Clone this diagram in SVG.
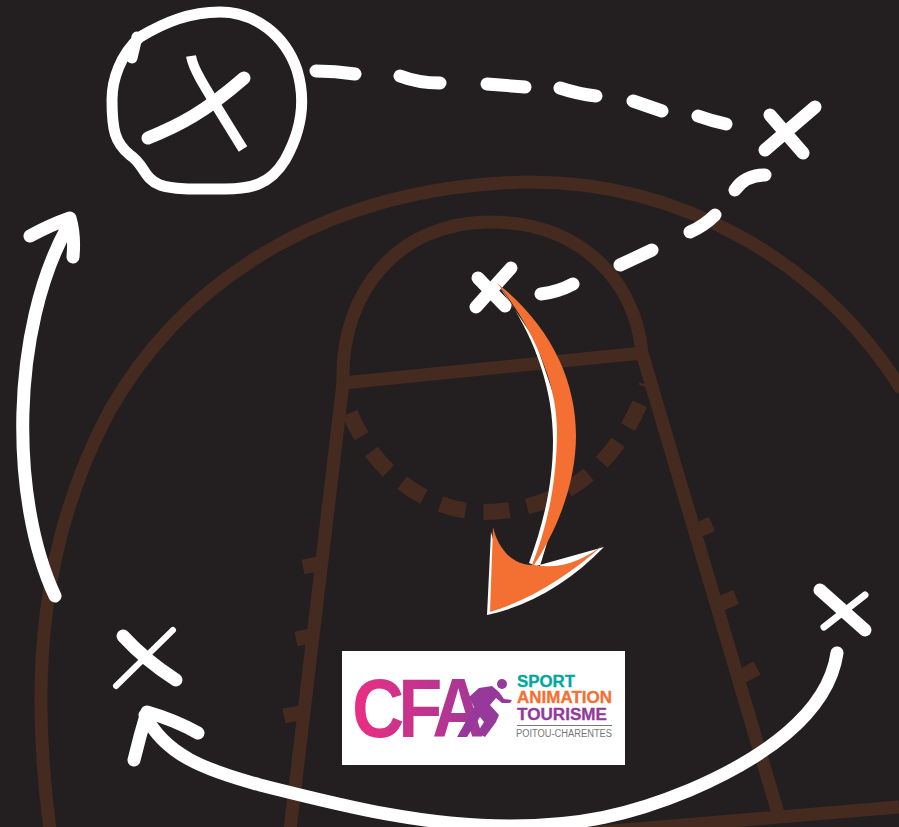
<svg xmlns="http://www.w3.org/2000/svg" width="899" height="827" viewBox="0 0 899 827">
<style>
.court{fill:none;stroke:#452a20;stroke-width:13}
.w{fill:none;stroke:#fff;stroke-width:13;stroke-linecap:round;stroke-linejoin:round}
.t{font-family:"Liberation Sans",Arial,sans-serif;font-weight:bold;font-size:16px;stroke-width:.3px}
</style>
<defs><linearGradient id="g" gradientUnits="userSpaceOnUse" x1="0" y1="0" x2="170" y2="0"><stop offset="0" stop-color="#ec2e82"/><stop offset="1" stop-color="#96399b"/></linearGradient></defs>
<rect width="899" height="827" fill="#231f20"/>
<g id="court">
<path class="court" d="M50 830C30 680 40 540 110 410C190 270 340 185 530 182C680 182 820 260 902 390"/>
<path class="court" d="M343 383C340 290 400 222 490 222C580 222 635 280 642 353"/>
<path class="court" d="M343 383L642 353M343 383L290 830M642 353L780 820M540 837L899 807"/>
<path class="court" style="stroke-width:16" stroke-dasharray="26 18" d="M350 413C375 475 430 512 484 512C560 512 620 465 647 385"/>
<path class="court" style="stroke-width:15" d="M303 567L323 563M296 639L316 635M284 716L304 712M693 532L712 524M715 606L736 597M735 680L757 668"/>
</g>
<g id="connectors">
<path class="w" d="M316 71Q335 71 355 74M400 76Q418 83 440 83M487 84L525 87M560 88Q578 94 596 96M633 101L662 111M698 116Q712 121 726 124"/>
<path class="w" d="M735 190Q745 175 765 175M690 232Q704 226 715 215M620 265L652 250M541 294Q558 292 573 284"/>
<path class="w" d="M55 596C10 500 10 330 68 226M30 236Q50 225 70 218Q75 235 73 257"/>
<path class="w" d="M837 653C828 715 760 760 690 790C630 815 580 826 510 826C420 826 340 805 260 785C205 770 165 755 145 715M134 760Q140 735 147 712Q175 720 198 733"/>
</g>
<g id="player-circled">
<path class="w" style="stroke-width:11" d="M132 58L137 37M140 37C165 22 190 12 220 12C255 12 285 35 297 70C306 100 302 130 285 160C270 185 250 189 225 189C200 189 175 190 160 185C143 178 145 165 130 155C115 143 112 130 112 100C112 80 120 55 140 37"/>
<path class="w" style="stroke-width:10;stroke-linecap:butt" d="M191 56C193 68 197 75 243 149"/>
<path class="w" d="M148 138C180 125 205 112 244 78"/>
</g>
<g id="player-top-right"><path class="w" d="M765 150L815 107M770 115L803 153"/></g>
<g id="player-center"><path class="w" d="M476 307L511 268M478 278L505 306"/></g>
<g id="player-bottom-left"><path class="w" style="stroke-width:6" d="M116 686L173 630"/><path class="w" d="M123 636Q145 660 176 680"/></g>
<g id="player-right"><path class="w" d="M820 590L865 630"/><path class="w" style="stroke-width:7" d="M824 627L865 595"/></g>
<g id="orange-arrow">
<path fill="#fff" d="M497 283C532 330 553 385 553 440C553 485 543 525 529 563L536 566L604 547C570 582 530 606 487 615L491 532L500 565L540 566L560 500L562 420L535 340Z"/>
<path fill="#f37032" d="M497 283C550 325 576 380 576 435C576 480 560 525 534 565C560 570 585 560 604 544C570 575 530 600 490 612L493 527C497 545 510 565 532 565C548 525 557 480 557 430C557 385 535 330 497 283Z"/>
</g>
<g id="logo">
<rect x="342" y="651" width="283" height="114" fill="#fff"/>
<text transform="translate(352 737) scale(.86 1)" font-family="Liberation Sans,Arial,sans-serif" font-weight="bold" font-size="84" letter-spacing="-7" fill="url(#g)">CFA</text>
<circle cx="502" cy="684" r="5" fill="#96399b"/>
<path fill="#96399b" d="M469 697L479 688L492 686L499 692L504 699L512 700L510 703L502 703L496 698L490 705L499 715L496 722L485 737L477 733L484 722L480 717L467 737L457 737L474 707Z"/>
<text class="t" x="517" y="687" fill="#00a79d" stroke="#00a79d" textLength="58" lengthAdjust="spacingAndGlyphs">SPORT</text>
<text class="t" x="517" y="703" fill="#f37032" stroke="#f37032" textLength="95" lengthAdjust="spacingAndGlyphs">ANIMATION</text>
<text class="t" x="517" y="720" fill="#93399b" stroke="#93399b" textLength="90" lengthAdjust="spacingAndGlyphs">TOURISME</text>
<rect x="517" y="725" width="95" height="1" fill="#777"/>
<text x="516" y="737" font-family="Liberation Sans,Arial,sans-serif" font-size="10" fill="#777" textLength="96" lengthAdjust="spacingAndGlyphs">POITOU-CHARENTES</text>
</g>
</svg>
